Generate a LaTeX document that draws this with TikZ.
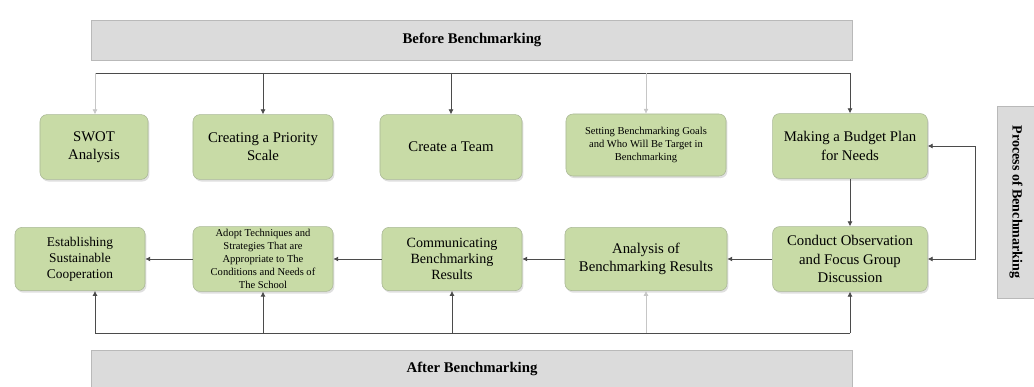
\documentclass[tikz,border=0pt]{standalone}
\usepackage{fontspec}
\setmainfont{Liberation Serif}
\usepackage{tikz}
\usetikzlibrary{arrows.meta,positioning,shadows}
\definecolor{boxgreen}{RGB}{200,219,166}
\definecolor{boxedge}{RGB}{170,184,150}
\definecolor{bargray}{RGB}{219,219,219}
\definecolor{linegray}{RGB}{75,75,75}

\begin{document}
\begin{tikzpicture}[x=0.025cm,y=-0.025cm,>={Latex[length=3.5pt,width=3.5pt]},
  stepbox/.style={draw=boxedge,fill=boxgreen,rounded corners=5pt,align=center,inner sep=2pt,
    drop shadow={opacity=0.25,shadow xshift=1pt,shadow yshift=-1.5pt},font=\fontsize{10.5}{13}\selectfont},
  smallbox/.style={stepbox,font=\fontsize{7.5}{9.2}\selectfont},
  stagebar/.style={draw=gray!55,fill=bargray,font=\bfseries\fontsize{10.5}{12}\selectfont},
  link/.style={draw=linegray,line width=0.5pt},
  faint/.style={draw=gray!45,line width=0.4pt}]
\useasboundingbox (0,0) rectangle (1034,387);
% stage bars
\node[stagebar,minimum width=19.03cm,minimum height=1cm] (before) at (472,40) {Before Benchmarking};
\node[stagebar,minimum width=19.03cm,minimum height=0.95cm] (after) at (472,369) {After Benchmarking};
\node[stagebar,rotate=-90,minimum width=4.8cm,minimum height=0.95cm,font=\bfseries\fontsize{10}{12}\selectfont] (process) at (1016,202) {Process of Benchmarking};
% first row
\node[stepbox,minimum width=2.7cm,minimum height=1.62cm] (swot) at (94,147) {SWOT\\Analysis};
\node[stepbox,minimum width=3.5cm,minimum height=1.62cm] (prio) at (263,147) {Creating a Priority\\Scale};
\node[stepbox,minimum width=3.55cm,minimum height=1.62cm] (team) at (451,147) {Create a Team};
\node[smallbox,minimum width=4cm,minimum height=1.55cm] (goals) at (646,145) {Setting Benchmarking Goals\\and Who Will Be Target in\\Benchmarking};
\node[stepbox,minimum width=3.87cm,minimum height=1.62cm] (budget) at (850,146) {Making a Budget Plan\\for Needs};
% second row
\node[stepbox,minimum width=3.25cm,minimum height=1.58cm,font=\fontsize{9.5}{11.5}\selectfont] (estab) at (80,259) {Establishing\\Sustainable\\Cooperation};
\node[smallbox,minimum width=3.5cm,minimum height=1.6cm] (adopt) at (263,259) {Adopt Techniques and\\Strategies That are\\Appropriate to The\\Conditions and Needs of\\The School};
\node[stepbox,minimum width=3.5cm,minimum height=1.58cm,font=\fontsize{10}{11.5}\selectfont] (comm) at (452,259) {Communicating\\Benchmarking\\Results};
\node[stepbox,minimum width=4.05cm,minimum height=1.58cm] (anal) at (646,259) {Analysis of\\Benchmarking Results};
\node[stepbox,minimum width=3.87cm,minimum height=1.62cm] (cond) at (850,259) {Conduct Observation\\and Focus Group\\Discussion};
% top rail
\coordinate (tl) at (95,73);
\coordinate (tr) at (850,73);
\draw[link] (tl) -- (tr);
\draw[faint,->] (tl) -- (tl |- swot.north);
\draw[link,->] (prio |- tl) -- (prio.north);
\draw[link,->] (team |- tl) -- (team.north);
\draw[faint,->] (goals |- tl) -- (goals.north);
\draw[link,->] (tr) -- (budget.north);
% process flow
\draw[link,->] (budget) -- (cond);
\draw[link,<->] (cond.east) -- ++(48,0) |- (budget.east);
\draw[link,->] (cond) -- (anal);
\draw[link,->] (anal) -- (comm);
\draw[link,->] (comm) -- (adopt);
\draw[link,->] (adopt) -- (estab);
% bottom rail
\coordinate (bl) at (95,333);
\coordinate (br) at (850,333);
\draw[link] (bl) -- (br);
\draw[link,->] (bl) -- (bl |- estab.south);
\draw[link,->] (adopt |- bl) -- (adopt.south);
\draw[link,->] (comm |- bl) -- (comm.south);
\draw[faint,->] (anal |- bl) -- (anal.south);
\draw[link,->] (br) -- (cond.south);
\end{tikzpicture}
\end{document}
